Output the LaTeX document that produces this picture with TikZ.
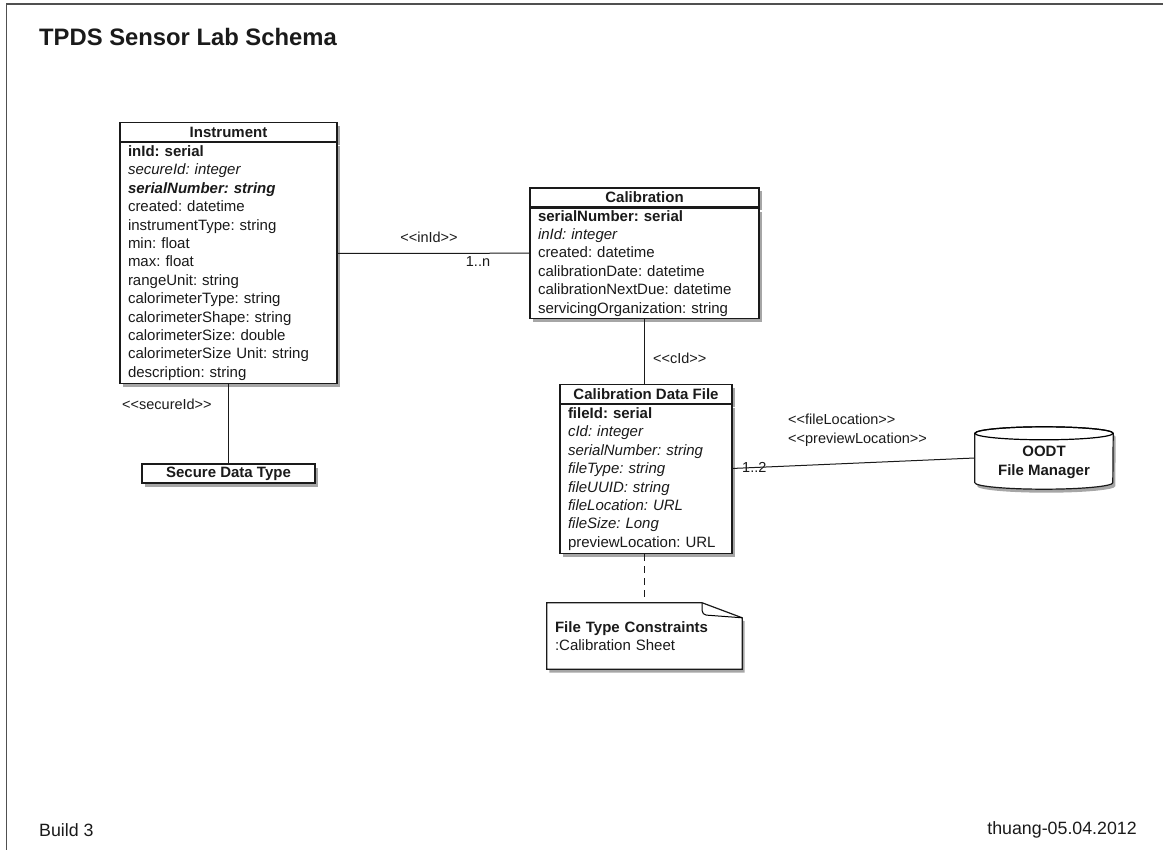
\documentclass[tikz,border=0pt]{standalone}
\usepackage{fontspec}
\setmainfont{Liberation Sans}
\usepackage{xcolor}
\usetikzlibrary{positioning, shadows, backgrounds}
\definecolor{umlink}{HTML}{1A1A1A}
\definecolor{framegray}{HTML}{505050}
\newcommand{\rowfont}{\fontsize{15}{18.4}\selectfont}
\newcommand{\tagfont}{\fontsize{14.5}{19}\selectfont}
\newcommand{\stereo}[1]{<\kern0pt<#1>\kern0pt>}
\frenchspacing

\begin{document}
\begin{tikzpicture}[
      x=1pt, y=1pt, color=umlink,
      boxshadow/.style={drop shadow={shadow xshift=2.5pt, shadow yshift=-3.5pt, opacity=0.35, fill=black}},
      classhead/.style={draw=umlink, line width=1.2pt, fill=white, font=\rowfont\bfseries, minimum height=18.5pt, inner sep=0pt, boxshadow},
      classbody/.style={draw=umlink, line width=1.2pt, fill=white, font=\rowfont, align=left, inner xsep=8pt, inner ysep=0pt, boxshadow},
      tag/.style={font=\tagfont, inner sep=0pt},
      link/.style={draw=umlink, line width=1pt}
    ]
      \useasboundingbox (0,0) rectangle (1163,-850);
      \draw[framegray, line width=1.5pt] (6.5,-850) -- (6.5,-4) -- (1163,-4);

      \node[font=\fontsize{23.8}{28}\selectfont\bfseries, anchor=west, inner sep=0pt] (title) at (39,-36.5) {TPDS Sensor Lab Schema};

      % classes
      \node[classhead, minimum width=217pt] (insthead) at (228.5,-132) {Instrument};
      \node[classbody, text width=201pt, minimum height=241pt, below=0pt of insthead] (instbody) {%
        \textbf{inId: serial}\\
        \textit{secureId: integer}\\
        \textbf{\textit{serialNumber: string}}\\
        created: datetime\\
        instrumentType: string\\
        min: float\\
        max: float\\
        rangeUnit: string\\
        calorimeterType: string\\
        calorimeterShape: string\\
        calorimeterSize: double\\
        calorimeterSize Unit: string\\
        description: string};

      \node[classhead, minimum width=229pt, minimum height=19pt] (calhead) at (644.5,-197.5) {Calibration};
      \node[classbody, text width=213pt, minimum height=110pt, below=0pt of calhead] (calbody) {%
        \textbf{serialNumber: serial}\\
        \textit{inId: integer}\\
        created: datetime\\
        calibrationDate: datetime\\
        calibrationNextDue: datetime\\
        servicingOrganization: string};

      \node[classhead, minimum width=172pt] (cdfhead) at (646,-394) {Calibration Data File};
      \node[classbody, text width=156pt, minimum height=149pt, below=0pt of cdfhead] (cdfbody) {%
        \textbf{fileId: serial}\\
        \textit{cId: integer}\\
        \textit{serialNumber: string}\\
        \textit{fileType: string}\\
        \textit{fileUUID: string}\\
        \textit{fileLocation: URL}\\
        \textit{fileSize: Long}\\
        previewLocation: URL};

      \node[classhead, minimum width=173pt, minimum height=19pt] (secure) at (228.5,-473.5) {Secure Data Type};

      % file manager and note
      \node[font=\rowfont\bfseries, align=center, minimum width=138pt, minimum height=53pt, inner sep=0pt] (oodt) at (1044,-462.5) {OODT\\File Manager};
      \node[font=\rowfont, align=left, text width=179pt, minimum height=66pt, inner xsep=8pt, inner ysep=0pt] (note) at (644.5,-636) {\textbf{File Type Constraints}\\:Calibration Sheet};

      \begin{scope}[on background layer]
        \path[draw=umlink, line width=1.2pt, fill=white, boxshadow] ([yshift=2.5pt]oodt.north west) -- ([yshift=6.5pt]oodt.south west)
          arc[start angle=180, end angle=360, x radius=69, y radius=6.5] -- ([yshift=2.5pt]oodt.north east)
          arc[start angle=0, end angle=180, x radius=69, y radius=6.5] -- cycle;
        \draw[line width=1.2pt] ([yshift=2.5pt]oodt.north) ellipse[x radius=69, y radius=6.5];

        \path[draw=umlink, line width=1.2pt, fill=white, boxshadow] (note.north west) -- ([xshift=-40pt]note.north east)
          -- ([yshift=-15pt]note.north east) -- (note.south east) -- (note.south west) -- cycle;
        \draw[line width=1pt, rounded corners=4pt] ([xshift=-40pt]note.north east) -- ([xshift=-40pt,yshift=-12pt]note.north east) -- ([yshift=-15pt]note.north east);
      \end{scope}

      % connectors
      \draw[link] ([yshift=9.5pt]instbody.east) -- ([yshift=10pt]calbody.west);
      \draw[link] (instbody.south) -- (secure.north);
      \draw[link] (calbody.south) -- (calbody.south |- cdfhead.north);
      \draw[link] ([yshift=10.5pt]cdfbody.east) -- ([yshift=4.5pt]oodt.west);
      \draw[link, dash pattern=on 7pt off 5pt] (note.north |- cdfbody.south) -- (note.north);

      \node[tag] (inidtag) at (429,-237) {\stereo{inId}};
      \node[tag] (inidmult) at (478,-262) {1..n};
      \node[tag, anchor=west] (securetag) at (122,-404) {\stereo{secureId}};
      \node[tag, anchor=west] (cidtag) at (653,-358) {\stereo{cId}};
      \node[tag, anchor=west, align=left] (loctag) at (788,-430.5) {\stereo{fileLocation}\\\stereo{previewLocation}};
      \node[tag, anchor=west] (locmult) at (742,-467) {1..2};

      \node[font=\fontsize{17.8}{21}\selectfont, anchor=west, inner sep=0pt] (build) at (39,-830) {Build 3};
      \node[font=\fontsize{17.8}{21}\selectfont, anchor=east, inner sep=0pt] (stamp) at (1137,-830) {thuang-05.04.2012};
    \end{tikzpicture}
\end{document}
